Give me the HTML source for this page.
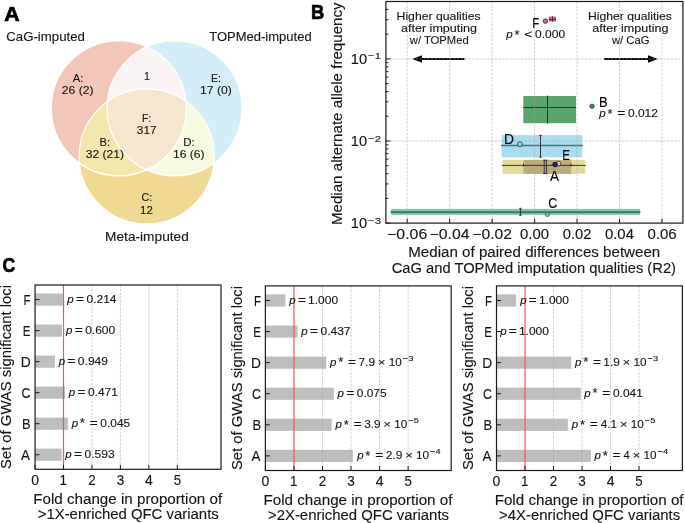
<!DOCTYPE html>
<html><head><meta charset="utf-8"><style>
html,body{margin:0;padding:0;background:#fff;}
svg{display:block;will-change:transform;font-family:"Liberation Sans", sans-serif;}
text{stroke:#151515;stroke-width:0.12px;}
</style></head><body>
<svg width="685" height="523" viewBox="0 0 685 523">
<rect width="685" height="523" fill="#fff"/>
<defs>
<clipPath id="cR"><circle cx="118.8" cy="108.3" r="67.5"/></clipPath>
<clipPath id="cB"><circle cx="174.6" cy="108.3" r="67.5"/></clipPath>
<clipPath id="cY"><circle cx="146.7" cy="156.4" r="67.5"/></clipPath>
</defs>
<circle cx="118.8" cy="108.3" r="67.5" fill="#F2C7B8"/>
<circle cx="174.6" cy="108.3" r="67.5" fill="#D3EEF9"/>
<circle cx="146.7" cy="156.4" r="67.5" fill="#F0D993"/>
<g clip-path="url(#cR)"><circle cx="174.6" cy="108.3" r="67.5" fill="#F9F3F3"/><circle cx="146.7" cy="156.4" r="67.5" fill="#F3E7AC"/></g>
<g clip-path="url(#cB)"><circle cx="146.7" cy="156.4" r="67.5" fill="#F7FADF"/></g>
<g clip-path="url(#cR)"><g clip-path="url(#cB)"><circle cx="146.7" cy="156.4" r="67.5" fill="#F5E6CD"/></g></g>
<circle cx="118.8" cy="108.3" r="67.5" fill="none" stroke="#fff" stroke-width="1.2"/>
<circle cx="174.6" cy="108.3" r="67.5" fill="none" stroke="#fff" stroke-width="1.2"/>
<circle cx="146.7" cy="156.4" r="67.5" fill="none" stroke="#fff" stroke-width="1.2"/>
<text x="4.37" y="20.85" font-size="19.78" font-weight="bold" fill="#000" textLength="15.36" lengthAdjust="spacingAndGlyphs" style="stroke:#000;stroke-width:0.7px">A</text>
<text x="6.33" y="41.20" font-size="12.72" fill="#151515" textLength="78.52" lengthAdjust="spacingAndGlyphs">CaG-imputed</text>
<text x="209.21" y="40.90" font-size="12.72" fill="#151515" textLength="102.43" lengthAdjust="spacingAndGlyphs">TOPMed-imputed</text>
<text x="105.08" y="240.50" font-size="12.72" fill="#151515" textLength="83.71" lengthAdjust="spacingAndGlyphs">Meta-imputed</text>
<text x="72.80" y="81.60" font-size="11.31" fill="#151515" textLength="10.61" lengthAdjust="spacingAndGlyphs">A:</text>
<text x="61.80" y="93.50" font-size="11.31" fill="#151515" textLength="31.75" lengthAdjust="spacingAndGlyphs">26 (2)</text>
<text x="211.12" y="81.60" font-size="11.31" fill="#151515" textLength="9.85" lengthAdjust="spacingAndGlyphs">E:</text>
<text x="200.08" y="93.50" font-size="11.31" fill="#151515" textLength="31.67" lengthAdjust="spacingAndGlyphs">17 (0)</text>
<text x="142.03" y="121.50" font-size="11.31" fill="#151515" textLength="9.24" lengthAdjust="spacingAndGlyphs">F:</text>
<text x="136.83" y="133.50" font-size="11.31" fill="#151515" textLength="19.68" lengthAdjust="spacingAndGlyphs">317</text>
<text x="99.47" y="145.60" font-size="11.31" fill="#151515" textLength="10.56" lengthAdjust="spacingAndGlyphs">B:</text>
<text x="85.67" y="158.00" font-size="11.31" fill="#151515" textLength="38.35" lengthAdjust="spacingAndGlyphs">32 (21)</text>
<text x="183.20" y="145.60" font-size="11.31" fill="#151515" textLength="11.51" lengthAdjust="spacingAndGlyphs">D:</text>
<text x="172.98" y="158.00" font-size="11.31" fill="#151515" textLength="31.67" lengthAdjust="spacingAndGlyphs">16 (6)</text>
<text x="141.45" y="201.40" font-size="11.31" fill="#151515" textLength="10.72" lengthAdjust="spacingAndGlyphs">C:</text>
<text x="140.06" y="213.60" font-size="11.31" fill="#151515" textLength="12.79" lengthAdjust="spacingAndGlyphs">12</text>
<text x="144.07" y="79.70" font-size="11.31" fill="#151515" textLength="5.97" lengthAdjust="spacingAndGlyphs">1</text>
<text x="310.97" y="18.60" font-size="19.78" font-weight="bold" fill="#000" textLength="13.27" lengthAdjust="spacingAndGlyphs" style="stroke:#000;stroke-width:0.7px">B</text>
<text x="396.61" y="20.00" font-size="11.31" fill="#151515" textLength="84.01" lengthAdjust="spacingAndGlyphs">Higher qualities</text>
<text x="400.97" y="32.10" font-size="11.31" fill="#151515" textLength="76.13" lengthAdjust="spacingAndGlyphs">after imputing</text>
<text x="409.82" y="44.30" font-size="11.31" fill="#151515" textLength="58.89" lengthAdjust="spacingAndGlyphs">w/ TOPMed</text>
<text x="587.96" y="20.00" font-size="11.31" fill="#151515" textLength="84.01" lengthAdjust="spacingAndGlyphs">Higher qualities</text>
<text x="592.32" y="32.10" font-size="11.31" fill="#151515" textLength="76.13" lengthAdjust="spacingAndGlyphs">after imputing</text>
<text x="611.94" y="44.30" font-size="11.31" fill="#151515" textLength="37.47" lengthAdjust="spacingAndGlyphs">w/ CaG</text>
<g stroke="#000" stroke-width="1.9">
<line x1="464.5" y1="59" x2="420" y2="59"/>
<line x1="604.1" y1="59" x2="649" y2="59"/>
</g>
<polygon points="412.2,59 422,55.3 422,62.7" fill="#000"/>
<polygon points="657.8,59 648,55.3 648,62.7" fill="#000"/>
<rect x="501.6" y="135.1" width="80.6" height="22.3" fill="#A9DCF1"/>
<line x1="501" y1="145.6" x2="582.8" y2="145.6" stroke="#50717f" stroke-width="1.5"/>
<g stroke="#222" stroke-width="0.9"><line x1="540.5" y1="135.4" x2="540.5" y2="157.2"/><line x1="539.2" y1="135.4" x2="541.8" y2="135.4"/><line x1="539.2" y1="157.2" x2="541.8" y2="157.2"/></g>
<circle cx="519.9" cy="144.2" r="2.4" fill="#9AD6EE" stroke="#222" stroke-width="0.8"/>
<rect x="502.6" y="159.9" width="82.6" height="13.9" fill="#E1DA9B"/>
<rect x="523.5" y="159.9" width="47.7" height="13.9" fill="#BBAA7C"/>
<line x1="502" y1="165.4" x2="585.8" y2="165.4" stroke="#222" stroke-width="0.9"/>
<g stroke="#222" stroke-width="0.9"><line x1="523.5" y1="163.6" x2="523.5" y2="166.4"/><line x1="571.2" y1="163.6" x2="571.2" y2="166.4"/>
<line x1="544.2" y1="160.2" x2="544.2" y2="173.6"/><line x1="546.4" y1="160.2" x2="546.4" y2="173.6"/><line x1="543.2" y1="160.2" x2="547.4" y2="160.2"/><line x1="543.2" y1="173.6" x2="547.4" y2="173.6"/></g>
<circle cx="558.4" cy="163.6" r="2.4" fill="#E8DC80" stroke="#222" stroke-width="0.7"/>
<circle cx="555.2" cy="164.5" r="2.5" fill="#1a1a8a" stroke="#111" stroke-width="0.5"/>
<rect x="523.3" y="96" width="52.7" height="27.2" fill="#5BA46B"/>
<line x1="523.3" y1="107.5" x2="576" y2="107.5" stroke="#1e3a24" stroke-width="1"/>
<line x1="547.5" y1="95.6" x2="547.5" y2="123.6" stroke="#1e3a24" stroke-width="1"/>
<circle cx="592" cy="106.2" r="2.2" fill="#2E8B3E" stroke="#1a3a20" stroke-width="0.6"/>
<g stroke="#a4a4a4" stroke-opacity="0.62" stroke-width="0.9" stroke-dasharray="2.4,1.35">
<line x1="407.22" y1="1.5" x2="407.22" y2="223.1"/>
<line x1="449.68" y1="1.5" x2="449.68" y2="223.1"/>
<line x1="492.14" y1="1.5" x2="492.14" y2="223.1"/>
<line x1="534.60" y1="1.5" x2="534.60" y2="223.1"/>
<line x1="577.06" y1="1.5" x2="577.06" y2="223.1"/>
<line x1="619.52" y1="1.5" x2="619.52" y2="223.1"/>
<line x1="661.98" y1="1.5" x2="661.98" y2="223.1"/>
<line x1="385.9" y1="58.89" x2="682.9" y2="58.89"/>
<line x1="385.9" y1="140.99" x2="682.9" y2="140.99"/>
</g>
<rect x="391" y="208.9" width="249" height="6" fill="#76C9AD"/>
<line x1="391" y1="212.2" x2="640" y2="212.2" stroke="#2f4f4f" stroke-width="1.3" stroke-linecap="round"/>
<g stroke="#222" stroke-width="0.9"><line x1="520.4" y1="208.3" x2="520.4" y2="215.3"/><line x1="519.2" y1="208.3" x2="521.6" y2="208.3"/><line x1="519.2" y1="215.3" x2="521.6" y2="215.3"/></g>
<circle cx="547.4" cy="214.5" r="2.1" fill="#6CC5A8" stroke="#2f5f4f" stroke-width="0.8"/>
<rect x="549.2" y="16.6" width="6.4" height="4.8" fill="#D9607A"/>
<g stroke="#222" stroke-width="0.8"><line x1="548.8" y1="19.5" x2="556" y2="19.5"/><line x1="552.5" y1="16.2" x2="552.5" y2="21.8"/></g><g stroke="#333" stroke-width="0.45"><line x1="549.3" y1="16.8" x2="549.3" y2="21.2"/><line x1="555.5" y1="16.8" x2="555.5" y2="21.2"/></g>
<circle cx="545.3" cy="21.1" r="2.3" fill="#D9607A" stroke="#222" stroke-width="0.7"/>
<text x="532.27" y="27.70" font-size="14.12" fill="#000" textLength="6.98" lengthAdjust="spacingAndGlyphs">F</text>
<text x="598.94" y="106.50" font-size="14.12" fill="#000" textLength="8.64" lengthAdjust="spacingAndGlyphs">B</text>
<text x="504.08" y="143.90" font-size="14.12" fill="#000" textLength="9.96" lengthAdjust="spacingAndGlyphs">D</text>
<text x="562.22" y="159.70" font-size="14.12" fill="#000" textLength="7.71" lengthAdjust="spacingAndGlyphs">E</text>
<text x="549.97" y="180.80" font-size="14.12" fill="#000" textLength="8.96" lengthAdjust="spacingAndGlyphs">A</text>
<text x="548.20" y="207.80" font-size="14.12" fill="#000" textLength="8.94" lengthAdjust="spacingAndGlyphs">C</text>
<text x="506.39" y="38.20" font-size="11.31" font-style="italic" fill="#151515" textLength="6.40" lengthAdjust="spacingAndGlyphs">p</text>
<text x="514.59" y="38.90" font-size="12.66" fill="#151515" textLength="5.12" lengthAdjust="spacingAndGlyphs">*</text>
<text x="524.37" y="38.20" font-size="11.31" fill="#151515" textLength="8.03" lengthAdjust="spacingAndGlyphs">&lt;</text>
<text x="535.03" y="38.20" font-size="11.31" fill="#151515" textLength="30.07" lengthAdjust="spacingAndGlyphs">0.000</text>
<text x="599.39" y="117.10" font-size="11.31" font-style="italic" fill="#151515" textLength="6.40" lengthAdjust="spacingAndGlyphs">p</text>
<text x="607.59" y="117.80" font-size="12.66" fill="#151515" textLength="5.12" lengthAdjust="spacingAndGlyphs">*</text>
<text x="617.38" y="117.10" font-size="11.31" fill="#151515" textLength="8.03" lengthAdjust="spacingAndGlyphs">=</text>
<text x="628.03" y="117.10" font-size="11.31" fill="#151515" textLength="29.84" lengthAdjust="spacingAndGlyphs">0.012</text>
<rect x="385.9" y="1.5" width="297.00" height="221.60" fill="none" stroke="#1a1a1a" stroke-width="1.2"/>
<g stroke="#1a1a1a" stroke-width="1">
<line x1="407.22" y1="223.1" x2="407.22" y2="218.6"/>
<line x1="449.68" y1="223.1" x2="449.68" y2="218.6"/>
<line x1="492.14" y1="223.1" x2="492.14" y2="218.6"/>
<line x1="534.60" y1="223.1" x2="534.60" y2="218.6"/>
<line x1="577.06" y1="223.1" x2="577.06" y2="218.6"/>
<line x1="619.52" y1="223.1" x2="619.52" y2="218.6"/>
<line x1="661.98" y1="223.1" x2="661.98" y2="218.6"/>
<line x1="385.9" y1="223.10" x2="390.4" y2="223.10"/>
<line x1="385.9" y1="198.38" x2="388.4" y2="198.38"/>
<line x1="385.9" y1="183.93" x2="388.4" y2="183.93"/>
<line x1="385.9" y1="173.67" x2="388.4" y2="173.67"/>
<line x1="385.9" y1="165.71" x2="388.4" y2="165.71"/>
<line x1="385.9" y1="159.21" x2="388.4" y2="159.21"/>
<line x1="385.9" y1="153.71" x2="388.4" y2="153.71"/>
<line x1="385.9" y1="148.95" x2="388.4" y2="148.95"/>
<line x1="385.9" y1="144.75" x2="388.4" y2="144.75"/>
<line x1="385.9" y1="140.99" x2="390.4" y2="140.99"/>
<line x1="385.9" y1="116.28" x2="388.4" y2="116.28"/>
<line x1="385.9" y1="101.82" x2="388.4" y2="101.82"/>
<line x1="385.9" y1="91.56" x2="388.4" y2="91.56"/>
<line x1="385.9" y1="83.61" x2="388.4" y2="83.61"/>
<line x1="385.9" y1="77.10" x2="388.4" y2="77.10"/>
<line x1="385.9" y1="71.61" x2="388.4" y2="71.61"/>
<line x1="385.9" y1="66.85" x2="388.4" y2="66.85"/>
<line x1="385.9" y1="62.65" x2="388.4" y2="62.65"/>
<line x1="385.9" y1="58.89" x2="390.4" y2="58.89"/>
<line x1="385.9" y1="34.17" x2="388.4" y2="34.17"/>
<line x1="385.9" y1="19.71" x2="388.4" y2="19.71"/>
<line x1="385.9" y1="9.46" x2="388.4" y2="9.46"/>
<line x1="385.9" y1="1.50" x2="388.4" y2="1.50"/>
</g>
<text x="387.14" y="238.80" font-size="14.12" fill="#151515" textLength="40.07" lengthAdjust="spacingAndGlyphs">−0.06</text>
<text x="429.56" y="238.80" font-size="14.12" fill="#151515" textLength="39.93" lengthAdjust="spacingAndGlyphs">−0.04</text>
<text x="472.32" y="238.80" font-size="14.12" fill="#151515" textLength="39.66" lengthAdjust="spacingAndGlyphs">−0.02</text>
<text x="520.06" y="238.80" font-size="14.12" fill="#151515" textLength="29.08" lengthAdjust="spacingAndGlyphs">0.00</text>
<text x="562.75" y="238.80" font-size="14.12" fill="#151515" textLength="28.79" lengthAdjust="spacingAndGlyphs">0.02</text>
<text x="604.91" y="238.80" font-size="14.12" fill="#151515" textLength="29.07" lengthAdjust="spacingAndGlyphs">0.04</text>
<text x="647.41" y="238.80" font-size="14.12" fill="#151515" textLength="29.21" lengthAdjust="spacingAndGlyphs">0.06</text>
<text x="350.77" y="63.99" font-size="14.12" fill="#151515" textLength="16.30" lengthAdjust="spacingAndGlyphs">10</text>
<text x="368.14" y="59.49" font-size="9.89" fill="#151515" textLength="13.03" lengthAdjust="spacingAndGlyphs">−1</text>
<text x="350.77" y="146.09" font-size="14.12" fill="#151515" textLength="16.30" lengthAdjust="spacingAndGlyphs">10</text>
<text x="368.14" y="141.59" font-size="9.89" fill="#151515" textLength="12.96" lengthAdjust="spacingAndGlyphs">−2</text>
<text x="350.77" y="228.20" font-size="14.12" fill="#151515" textLength="16.30" lengthAdjust="spacingAndGlyphs">10</text>
<text x="368.13" y="223.70" font-size="9.89" fill="#151515" textLength="13.09" lengthAdjust="spacingAndGlyphs">−3</text>
<text x="408.26" y="257.10" font-size="14.12" fill="#151515" textLength="252.02" lengthAdjust="spacingAndGlyphs">Median of paired differences between</text>
<text x="391.65" y="273.30" font-size="14.12" fill="#151515" textLength="284.36" lengthAdjust="spacingAndGlyphs">CaG and TOPMed imputation qualities (R2)</text>
<g transform="translate(342.20,113.15) rotate(-90)"><text x="-111.89" y="0" font-size="14.12" fill="#151515" textLength="222.57" lengthAdjust="spacingAndGlyphs">Median alternate allele frequency</text></g>
<text x="2.57" y="272.40" font-size="19.78" font-weight="bold" fill="#000" textLength="12.79" lengthAdjust="spacingAndGlyphs" style="stroke:#000;stroke-width:0.7px">C</text>
<rect x="35.05" y="448.62" width="26.65" height="12.2" fill="#BEBEBE"/>
<rect x="35.05" y="417.59" width="32.85" height="12.2" fill="#BEBEBE"/>
<rect x="35.05" y="386.56" width="29.95" height="12.2" fill="#BEBEBE"/>
<rect x="35.05" y="355.54" width="19.85" height="12.2" fill="#BEBEBE"/>
<rect x="35.05" y="324.51" width="26.85" height="12.2" fill="#BEBEBE"/>
<rect x="35.05" y="293.48" width="27.85" height="12.2" fill="#BEBEBE"/>
<g stroke="#a4a4a4" stroke-opacity="0.62" stroke-width="0.9" stroke-dasharray="2.4,1.35">
<line x1="91.95" y1="285.0" x2="91.95" y2="469.3"/>
<line x1="120.40" y1="285.0" x2="120.40" y2="469.3"/>
<line x1="148.85" y1="285.0" x2="148.85" y2="469.3"/>
<line x1="177.30" y1="285.0" x2="177.30" y2="469.3"/>
</g>
<line x1="63.50" y1="285.0" x2="63.50" y2="469.3" stroke="#FF5050" stroke-width="1.2"/>
<text x="65.39" y="457.72" font-size="11.31" font-style="italic" fill="#151515" textLength="6.40" lengthAdjust="spacingAndGlyphs">p</text>
<text x="74.08" y="457.72" font-size="11.31" fill="#151515" textLength="8.03" lengthAdjust="spacingAndGlyphs">=</text>
<text x="84.58" y="457.72" font-size="11.31" fill="#151515" textLength="29.98" lengthAdjust="spacingAndGlyphs">0.593</text>
<text x="71.69" y="426.69" font-size="11.31" font-style="italic" fill="#151515" textLength="6.40" lengthAdjust="spacingAndGlyphs">p</text>
<text x="79.89" y="427.39" font-size="12.66" fill="#151515" textLength="5.12" lengthAdjust="spacingAndGlyphs">*</text>
<text x="89.68" y="426.69" font-size="11.31" fill="#151515" textLength="8.03" lengthAdjust="spacingAndGlyphs">=</text>
<text x="100.33" y="426.69" font-size="11.31" fill="#151515" textLength="29.88" lengthAdjust="spacingAndGlyphs">0.045</text>
<text x="68.79" y="395.66" font-size="11.31" font-style="italic" fill="#151515" textLength="6.40" lengthAdjust="spacingAndGlyphs">p</text>
<text x="77.48" y="395.66" font-size="11.31" fill="#151515" textLength="8.03" lengthAdjust="spacingAndGlyphs">=</text>
<text x="87.98" y="395.66" font-size="11.31" fill="#151515" textLength="29.91" lengthAdjust="spacingAndGlyphs">0.471</text>
<text x="58.69" y="364.64" font-size="11.31" font-style="italic" fill="#151515" textLength="6.40" lengthAdjust="spacingAndGlyphs">p</text>
<text x="67.38" y="364.64" font-size="11.31" fill="#151515" textLength="8.03" lengthAdjust="spacingAndGlyphs">=</text>
<text x="77.88" y="364.64" font-size="11.31" fill="#151515" textLength="30.13" lengthAdjust="spacingAndGlyphs">0.949</text>
<text x="65.99" y="333.61" font-size="11.31" font-style="italic" fill="#151515" textLength="6.40" lengthAdjust="spacingAndGlyphs">p</text>
<text x="74.68" y="333.61" font-size="11.31" fill="#151515" textLength="8.03" lengthAdjust="spacingAndGlyphs">=</text>
<text x="85.18" y="333.61" font-size="11.31" fill="#151515" textLength="30.07" lengthAdjust="spacingAndGlyphs">0.600</text>
<text x="67.29" y="302.58" font-size="11.31" font-style="italic" fill="#151515" textLength="6.40" lengthAdjust="spacingAndGlyphs">p</text>
<text x="75.98" y="302.58" font-size="11.31" fill="#151515" textLength="8.03" lengthAdjust="spacingAndGlyphs">=</text>
<text x="86.48" y="302.58" font-size="11.31" fill="#151515" textLength="30.06" lengthAdjust="spacingAndGlyphs">0.214</text>
<rect x="35.05" y="285.0" width="185.95" height="184.30" fill="none" stroke="#1a1a1a" stroke-width="1.2"/>
<g stroke="#1a1a1a" stroke-width="1">
<line x1="35.05" y1="469.3" x2="35.05" y2="464.8"/>
<line x1="63.50" y1="469.3" x2="63.50" y2="464.8"/>
<line x1="91.95" y1="469.3" x2="91.95" y2="464.8"/>
<line x1="120.40" y1="469.3" x2="120.40" y2="464.8"/>
<line x1="148.85" y1="469.3" x2="148.85" y2="464.8"/>
<line x1="177.30" y1="469.3" x2="177.30" y2="464.8"/>
<line x1="35.05" y1="454.72" x2="39.55" y2="454.72"/>
<line x1="35.05" y1="423.69" x2="39.55" y2="423.69"/>
<line x1="35.05" y1="392.66" x2="39.55" y2="392.66"/>
<line x1="35.05" y1="361.64" x2="39.55" y2="361.64"/>
<line x1="35.05" y1="330.61" x2="39.55" y2="330.61"/>
<line x1="35.05" y1="299.58" x2="39.55" y2="299.58"/>
</g>
<text x="31.14" y="484.60" font-size="14.12" fill="#151515" textLength="7.81" lengthAdjust="spacingAndGlyphs">0</text>
<text x="59.58" y="484.60" font-size="14.12" fill="#151515" textLength="7.46" lengthAdjust="spacingAndGlyphs">1</text>
<text x="88.18" y="484.60" font-size="14.12" fill="#151515" textLength="7.53" lengthAdjust="spacingAndGlyphs">2</text>
<text x="116.69" y="484.60" font-size="14.12" fill="#151515" textLength="7.51" lengthAdjust="spacingAndGlyphs">3</text>
<text x="144.99" y="484.60" font-size="14.12" fill="#151515" textLength="7.82" lengthAdjust="spacingAndGlyphs">4</text>
<text x="173.63" y="484.60" font-size="14.12" fill="#151515" textLength="7.38" lengthAdjust="spacingAndGlyphs">5</text>
<text x="21.12" y="460.32" font-size="14.12" fill="#151515" textLength="8.96" lengthAdjust="spacingAndGlyphs">A</text>
<text x="22.09" y="429.29" font-size="14.12" fill="#151515" textLength="8.64" lengthAdjust="spacingAndGlyphs">B</text>
<text x="21.59" y="398.26" font-size="14.12" fill="#151515" textLength="8.94" lengthAdjust="spacingAndGlyphs">C</text>
<text x="20.75" y="367.24" font-size="14.12" fill="#151515" textLength="9.96" lengthAdjust="spacingAndGlyphs">D</text>
<text x="22.84" y="336.21" font-size="14.12" fill="#151515" textLength="7.71" lengthAdjust="spacingAndGlyphs">E</text>
<text x="23.53" y="305.18" font-size="14.12" fill="#151515" textLength="6.98" lengthAdjust="spacingAndGlyphs">F</text>
<text x="33.25" y="503.60" font-size="14.12" fill="#151515" textLength="188.89" lengthAdjust="spacingAndGlyphs">Fold change in proportion of</text>
<text x="37.70" y="519.20" font-size="14.12" fill="#151515" textLength="181.05" lengthAdjust="spacingAndGlyphs">&gt;1X-enriched QFC variants</text>
<g transform="translate(11.20,377.15) rotate(-90)"><text x="-91.86" y="0" font-size="14.12" fill="#151515" textLength="184.04" lengthAdjust="spacingAndGlyphs">Set of GWAS significant loci</text></g>
<rect x="265.40" y="449.79" width="87.50" height="12.2" fill="#BEBEBE"/>
<rect x="265.40" y="418.72" width="66.30" height="12.2" fill="#BEBEBE"/>
<rect x="265.40" y="387.64" width="68.40" height="12.2" fill="#BEBEBE"/>
<rect x="265.40" y="356.56" width="60.90" height="12.2" fill="#BEBEBE"/>
<rect x="265.40" y="325.48" width="32.10" height="12.2" fill="#BEBEBE"/>
<rect x="265.40" y="294.41" width="20.00" height="12.2" fill="#BEBEBE"/>
<g stroke="#a4a4a4" stroke-opacity="0.62" stroke-width="0.9" stroke-dasharray="2.4,1.35">
<line x1="322.50" y1="285.9" x2="322.50" y2="470.5"/>
<line x1="351.05" y1="285.9" x2="351.05" y2="470.5"/>
<line x1="379.60" y1="285.9" x2="379.60" y2="470.5"/>
<line x1="408.15" y1="285.9" x2="408.15" y2="470.5"/>
</g>
<line x1="293.95" y1="285.9" x2="293.95" y2="470.5" stroke="#FF5050" stroke-width="1.2"/>
<text x="357.19" y="458.89" font-size="11.31" font-style="italic" fill="#151515" textLength="6.40" lengthAdjust="spacingAndGlyphs">p</text>
<text x="365.39" y="459.59" font-size="12.66" fill="#151515" textLength="5.12" lengthAdjust="spacingAndGlyphs">*</text>
<text x="375.18" y="458.89" font-size="11.31" fill="#151515" textLength="8.03" lengthAdjust="spacingAndGlyphs">=</text>
<text x="385.70" y="458.89" font-size="11.31" fill="#151515" textLength="16.60" lengthAdjust="spacingAndGlyphs">2.9</text>
<text x="405.00" y="458.89" font-size="11.31" fill="#151515" textLength="7.88" lengthAdjust="spacingAndGlyphs">×</text>
<text x="415.96" y="458.89" font-size="11.31" fill="#151515" textLength="13.05" lengthAdjust="spacingAndGlyphs">10</text>
<text x="430.10" y="454.49" font-size="7.92" fill="#151515" textLength="10.53" lengthAdjust="spacingAndGlyphs">−4</text>
<text x="335.59" y="427.82" font-size="11.31" font-style="italic" fill="#151515" textLength="6.40" lengthAdjust="spacingAndGlyphs">p</text>
<text x="343.79" y="428.52" font-size="12.66" fill="#151515" textLength="5.12" lengthAdjust="spacingAndGlyphs">*</text>
<text x="353.58" y="427.82" font-size="11.31" fill="#151515" textLength="8.03" lengthAdjust="spacingAndGlyphs">=</text>
<text x="364.25" y="427.82" font-size="11.31" fill="#151515" textLength="16.41" lengthAdjust="spacingAndGlyphs">3.9</text>
<text x="383.37" y="427.82" font-size="11.31" fill="#151515" textLength="7.88" lengthAdjust="spacingAndGlyphs">×</text>
<text x="394.33" y="427.82" font-size="11.31" fill="#151515" textLength="13.05" lengthAdjust="spacingAndGlyphs">10</text>
<text x="408.47" y="423.42" font-size="7.92" fill="#151515" textLength="10.40" lengthAdjust="spacingAndGlyphs">−5</text>
<text x="337.59" y="396.74" font-size="11.31" font-style="italic" fill="#151515" textLength="6.40" lengthAdjust="spacingAndGlyphs">p</text>
<text x="346.28" y="396.74" font-size="11.31" fill="#151515" textLength="8.03" lengthAdjust="spacingAndGlyphs">=</text>
<text x="356.78" y="396.74" font-size="11.31" fill="#151515" textLength="29.88" lengthAdjust="spacingAndGlyphs">0.075</text>
<text x="329.99" y="365.66" font-size="11.31" font-style="italic" fill="#151515" textLength="6.40" lengthAdjust="spacingAndGlyphs">p</text>
<text x="338.19" y="366.36" font-size="12.66" fill="#151515" textLength="5.12" lengthAdjust="spacingAndGlyphs">*</text>
<text x="347.98" y="365.66" font-size="11.31" fill="#151515" textLength="8.03" lengthAdjust="spacingAndGlyphs">=</text>
<text x="358.49" y="365.66" font-size="11.31" fill="#151515" textLength="16.52" lengthAdjust="spacingAndGlyphs">7.9</text>
<text x="377.71" y="365.66" font-size="11.31" fill="#151515" textLength="7.88" lengthAdjust="spacingAndGlyphs">×</text>
<text x="388.67" y="365.66" font-size="11.31" fill="#151515" textLength="13.05" lengthAdjust="spacingAndGlyphs">10</text>
<text x="402.80" y="361.26" font-size="7.92" fill="#151515" textLength="10.48" lengthAdjust="spacingAndGlyphs">−3</text>
<text x="301.29" y="334.58" font-size="11.31" font-style="italic" fill="#151515" textLength="6.40" lengthAdjust="spacingAndGlyphs">p</text>
<text x="309.98" y="334.58" font-size="11.31" fill="#151515" textLength="8.03" lengthAdjust="spacingAndGlyphs">=</text>
<text x="320.48" y="334.58" font-size="11.31" fill="#151515" textLength="30.00" lengthAdjust="spacingAndGlyphs">0.437</text>
<text x="289.29" y="303.51" font-size="11.31" font-style="italic" fill="#151515" textLength="6.40" lengthAdjust="spacingAndGlyphs">p</text>
<text x="297.98" y="303.51" font-size="11.31" fill="#151515" textLength="8.03" lengthAdjust="spacingAndGlyphs">=</text>
<text x="308.04" y="303.51" font-size="11.31" fill="#151515" textLength="30.05" lengthAdjust="spacingAndGlyphs">1.000</text>
<rect x="265.4" y="285.9" width="185.80" height="184.60" fill="none" stroke="#1a1a1a" stroke-width="1.2"/>
<g stroke="#1a1a1a" stroke-width="1">
<line x1="265.40" y1="470.5" x2="265.40" y2="466.0"/>
<line x1="293.95" y1="470.5" x2="293.95" y2="466.0"/>
<line x1="322.50" y1="470.5" x2="322.50" y2="466.0"/>
<line x1="351.05" y1="470.5" x2="351.05" y2="466.0"/>
<line x1="379.60" y1="470.5" x2="379.60" y2="466.0"/>
<line x1="408.15" y1="470.5" x2="408.15" y2="466.0"/>
<line x1="265.4" y1="455.89" x2="269.9" y2="455.89"/>
<line x1="265.4" y1="424.82" x2="269.9" y2="424.82"/>
<line x1="265.4" y1="393.74" x2="269.9" y2="393.74"/>
<line x1="265.4" y1="362.66" x2="269.9" y2="362.66"/>
<line x1="265.4" y1="331.58" x2="269.9" y2="331.58"/>
<line x1="265.4" y1="300.51" x2="269.9" y2="300.51"/>
</g>
<text x="261.49" y="485.80" font-size="14.12" fill="#151515" textLength="7.81" lengthAdjust="spacingAndGlyphs">0</text>
<text x="290.03" y="485.80" font-size="14.12" fill="#151515" textLength="7.46" lengthAdjust="spacingAndGlyphs">1</text>
<text x="318.73" y="485.80" font-size="14.12" fill="#151515" textLength="7.53" lengthAdjust="spacingAndGlyphs">2</text>
<text x="347.34" y="485.80" font-size="14.12" fill="#151515" textLength="7.51" lengthAdjust="spacingAndGlyphs">3</text>
<text x="375.74" y="485.80" font-size="14.12" fill="#151515" textLength="7.82" lengthAdjust="spacingAndGlyphs">4</text>
<text x="404.48" y="485.80" font-size="14.12" fill="#151515" textLength="7.38" lengthAdjust="spacingAndGlyphs">5</text>
<text x="251.47" y="461.49" font-size="14.12" fill="#151515" textLength="8.96" lengthAdjust="spacingAndGlyphs">A</text>
<text x="252.44" y="430.42" font-size="14.12" fill="#151515" textLength="8.64" lengthAdjust="spacingAndGlyphs">B</text>
<text x="251.94" y="399.34" font-size="14.12" fill="#151515" textLength="8.94" lengthAdjust="spacingAndGlyphs">C</text>
<text x="251.10" y="368.26" font-size="14.12" fill="#151515" textLength="9.96" lengthAdjust="spacingAndGlyphs">D</text>
<text x="253.19" y="337.18" font-size="14.12" fill="#151515" textLength="7.71" lengthAdjust="spacingAndGlyphs">E</text>
<text x="253.88" y="306.11" font-size="14.12" fill="#151515" textLength="6.98" lengthAdjust="spacingAndGlyphs">F</text>
<text x="263.52" y="504.80" font-size="14.12" fill="#151515" textLength="188.89" lengthAdjust="spacingAndGlyphs">Fold change in proportion of</text>
<text x="267.98" y="520.40" font-size="14.12" fill="#151515" textLength="181.05" lengthAdjust="spacingAndGlyphs">&gt;2X-enriched QFC variants</text>
<g transform="translate(241.55,378.20) rotate(-90)"><text x="-91.86" y="0" font-size="14.12" fill="#151515" textLength="184.04" lengthAdjust="spacingAndGlyphs">Set of GWAS significant loci</text></g>
<rect x="496.50" y="449.79" width="94.40" height="12.2" fill="#BEBEBE"/>
<rect x="496.50" y="418.72" width="71.30" height="12.2" fill="#BEBEBE"/>
<rect x="496.50" y="387.64" width="84.30" height="12.2" fill="#BEBEBE"/>
<rect x="496.50" y="356.56" width="74.80" height="12.2" fill="#BEBEBE"/>
<rect x="496.50" y="294.41" width="19.70" height="12.2" fill="#BEBEBE"/>
<g stroke="#a4a4a4" stroke-opacity="0.62" stroke-width="0.9" stroke-dasharray="2.4,1.35">
<line x1="553.50" y1="285.9" x2="553.50" y2="470.5"/>
<line x1="582.00" y1="285.9" x2="582.00" y2="470.5"/>
<line x1="610.50" y1="285.9" x2="610.50" y2="470.5"/>
<line x1="639.00" y1="285.9" x2="639.00" y2="470.5"/>
</g>
<line x1="525.00" y1="285.9" x2="525.00" y2="470.5" stroke="#FF5050" stroke-width="1.2"/>
<text x="594.59" y="458.89" font-size="11.31" font-style="italic" fill="#151515" textLength="6.40" lengthAdjust="spacingAndGlyphs">p</text>
<text x="602.79" y="459.59" font-size="12.66" fill="#151515" textLength="5.12" lengthAdjust="spacingAndGlyphs">*</text>
<text x="612.58" y="458.89" font-size="11.31" fill="#151515" textLength="8.03" lengthAdjust="spacingAndGlyphs">=</text>
<text x="623.44" y="458.89" font-size="11.31" fill="#151515" textLength="6.26" lengthAdjust="spacingAndGlyphs">4</text>
<text x="632.63" y="458.89" font-size="11.31" fill="#151515" textLength="7.88" lengthAdjust="spacingAndGlyphs">×</text>
<text x="643.59" y="458.89" font-size="11.31" fill="#151515" textLength="13.05" lengthAdjust="spacingAndGlyphs">10</text>
<text x="657.73" y="454.49" font-size="7.92" fill="#151515" textLength="10.53" lengthAdjust="spacingAndGlyphs">−4</text>
<text x="571.89" y="427.82" font-size="11.31" font-style="italic" fill="#151515" textLength="6.40" lengthAdjust="spacingAndGlyphs">p</text>
<text x="580.09" y="428.52" font-size="12.66" fill="#151515" textLength="5.12" lengthAdjust="spacingAndGlyphs">*</text>
<text x="589.88" y="427.82" font-size="11.31" fill="#151515" textLength="8.03" lengthAdjust="spacingAndGlyphs">=</text>
<text x="600.73" y="427.82" font-size="11.31" fill="#151515" textLength="16.31" lengthAdjust="spacingAndGlyphs">4.1</text>
<text x="619.73" y="427.82" font-size="11.31" fill="#151515" textLength="7.88" lengthAdjust="spacingAndGlyphs">×</text>
<text x="630.69" y="427.82" font-size="11.31" fill="#151515" textLength="13.05" lengthAdjust="spacingAndGlyphs">10</text>
<text x="644.83" y="423.42" font-size="7.92" fill="#151515" textLength="10.40" lengthAdjust="spacingAndGlyphs">−5</text>
<text x="584.29" y="396.74" font-size="11.31" font-style="italic" fill="#151515" textLength="6.40" lengthAdjust="spacingAndGlyphs">p</text>
<text x="592.49" y="397.44" font-size="12.66" fill="#151515" textLength="5.12" lengthAdjust="spacingAndGlyphs">*</text>
<text x="602.28" y="396.74" font-size="11.31" fill="#151515" textLength="8.03" lengthAdjust="spacingAndGlyphs">=</text>
<text x="612.93" y="396.74" font-size="11.31" fill="#151515" textLength="29.91" lengthAdjust="spacingAndGlyphs">0.041</text>
<text x="575.09" y="365.66" font-size="11.31" font-style="italic" fill="#151515" textLength="6.40" lengthAdjust="spacingAndGlyphs">p</text>
<text x="583.29" y="366.36" font-size="12.66" fill="#151515" textLength="5.12" lengthAdjust="spacingAndGlyphs">*</text>
<text x="593.08" y="365.66" font-size="11.31" fill="#151515" textLength="8.03" lengthAdjust="spacingAndGlyphs">=</text>
<text x="603.30" y="365.66" font-size="11.31" fill="#151515" textLength="16.51" lengthAdjust="spacingAndGlyphs">1.9</text>
<text x="622.51" y="365.66" font-size="11.31" fill="#151515" textLength="7.88" lengthAdjust="spacingAndGlyphs">×</text>
<text x="633.47" y="365.66" font-size="11.31" fill="#151515" textLength="13.05" lengthAdjust="spacingAndGlyphs">10</text>
<text x="647.61" y="361.26" font-size="7.92" fill="#151515" textLength="10.48" lengthAdjust="spacingAndGlyphs">−3</text>
<text x="500.19" y="334.58" font-size="11.31" font-style="italic" fill="#151515" textLength="6.40" lengthAdjust="spacingAndGlyphs">p</text>
<text x="508.88" y="334.58" font-size="11.31" fill="#151515" textLength="8.03" lengthAdjust="spacingAndGlyphs">=</text>
<text x="518.94" y="334.58" font-size="11.31" fill="#151515" textLength="30.05" lengthAdjust="spacingAndGlyphs">1.000</text>
<text x="520.19" y="303.51" font-size="11.31" font-style="italic" fill="#151515" textLength="6.40" lengthAdjust="spacingAndGlyphs">p</text>
<text x="528.88" y="303.51" font-size="11.31" fill="#151515" textLength="8.03" lengthAdjust="spacingAndGlyphs">=</text>
<text x="538.94" y="303.51" font-size="11.31" fill="#151515" textLength="30.05" lengthAdjust="spacingAndGlyphs">1.000</text>
<rect x="496.5" y="285.9" width="185.90" height="184.60" fill="none" stroke="#1a1a1a" stroke-width="1.2"/>
<g stroke="#1a1a1a" stroke-width="1">
<line x1="496.50" y1="470.5" x2="496.50" y2="466.0"/>
<line x1="525.00" y1="470.5" x2="525.00" y2="466.0"/>
<line x1="553.50" y1="470.5" x2="553.50" y2="466.0"/>
<line x1="582.00" y1="470.5" x2="582.00" y2="466.0"/>
<line x1="610.50" y1="470.5" x2="610.50" y2="466.0"/>
<line x1="639.00" y1="470.5" x2="639.00" y2="466.0"/>
<line x1="496.5" y1="455.89" x2="501.0" y2="455.89"/>
<line x1="496.5" y1="424.82" x2="501.0" y2="424.82"/>
<line x1="496.5" y1="393.74" x2="501.0" y2="393.74"/>
<line x1="496.5" y1="362.66" x2="501.0" y2="362.66"/>
<line x1="496.5" y1="331.58" x2="501.0" y2="331.58"/>
<line x1="496.5" y1="300.51" x2="501.0" y2="300.51"/>
</g>
<text x="492.59" y="485.80" font-size="14.12" fill="#151515" textLength="7.81" lengthAdjust="spacingAndGlyphs">0</text>
<text x="521.08" y="485.80" font-size="14.12" fill="#151515" textLength="7.46" lengthAdjust="spacingAndGlyphs">1</text>
<text x="549.73" y="485.80" font-size="14.12" fill="#151515" textLength="7.53" lengthAdjust="spacingAndGlyphs">2</text>
<text x="578.29" y="485.80" font-size="14.12" fill="#151515" textLength="7.51" lengthAdjust="spacingAndGlyphs">3</text>
<text x="606.64" y="485.80" font-size="14.12" fill="#151515" textLength="7.82" lengthAdjust="spacingAndGlyphs">4</text>
<text x="635.33" y="485.80" font-size="14.12" fill="#151515" textLength="7.38" lengthAdjust="spacingAndGlyphs">5</text>
<text x="482.57" y="461.49" font-size="14.12" fill="#151515" textLength="8.96" lengthAdjust="spacingAndGlyphs">A</text>
<text x="483.54" y="430.42" font-size="14.12" fill="#151515" textLength="8.64" lengthAdjust="spacingAndGlyphs">B</text>
<text x="483.04" y="399.34" font-size="14.12" fill="#151515" textLength="8.94" lengthAdjust="spacingAndGlyphs">C</text>
<text x="482.20" y="368.26" font-size="14.12" fill="#151515" textLength="9.96" lengthAdjust="spacingAndGlyphs">D</text>
<text x="484.29" y="337.18" font-size="14.12" fill="#151515" textLength="7.71" lengthAdjust="spacingAndGlyphs">E</text>
<text x="484.98" y="306.11" font-size="14.12" fill="#151515" textLength="6.98" lengthAdjust="spacingAndGlyphs">F</text>
<text x="494.67" y="504.80" font-size="14.12" fill="#151515" textLength="188.89" lengthAdjust="spacingAndGlyphs">Fold change in proportion of</text>
<text x="499.13" y="520.40" font-size="14.12" fill="#151515" textLength="181.05" lengthAdjust="spacingAndGlyphs">&gt;4X-enriched QFC variants</text>
<g transform="translate(472.65,378.20) rotate(-90)"><text x="-91.86" y="0" font-size="14.12" fill="#151515" textLength="184.04" lengthAdjust="spacingAndGlyphs">Set of GWAS significant loci</text></g>
</svg></body></html>
